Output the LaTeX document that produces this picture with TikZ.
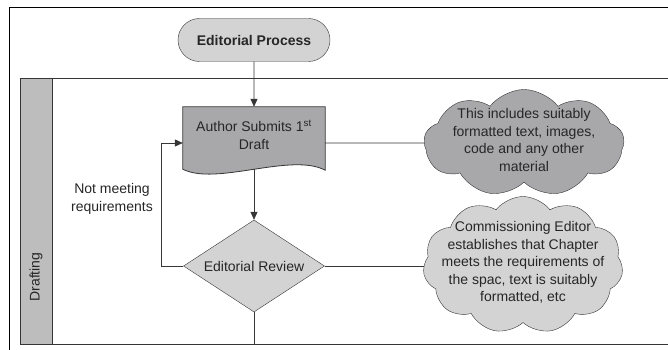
\documentclass[tikz,border=0pt]{standalone}
\usepackage{fontspec}
\setmainfont{Liberation Sans}
\usetikzlibrary{arrows.meta, positioning, shapes.geometric, shapes.misc, shapes.symbols, backgrounds}
\definecolor{linegray}{HTML}{363636}
\definecolor{lightfill}{HTML}{D3D3D4}
\definecolor{darkfill}{HTML}{A8A8AA}
\definecolor{stripfill}{HTML}{BDBDBE}
\tikzset{
  basenode/.style = {align=center, inner sep=0pt, text=black!85,
    font=\fontsize{14}{17.5}\selectfont},
  startstop/.style = {basenode, rounded rectangle, draw=linegray, fill=lightfill,
    font=\fontsize{14}{17.5}\selectfont\bfseries, minimum width=152pt, minimum height=43pt},
  docbox/.style = {basenode, rectangle, minimum width=142pt, minimum height=62pt, text depth=7pt},
  decision/.style = {basenode, diamond, draw=linegray, fill=lightfill, aspect=1.53,
    minimum width=141pt, minimum height=92pt},
  notedark/.style = {cloud, cloud puffs=9, cloud puff arc=105, cloud ignores aspect, draw=linegray,
    fill=darkfill, minimum width=200pt, minimum height=107pt},
  notelight/.style = {notedark, cloud puffs=11, fill=lightfill, minimum height=137pt},
  connector/.style = {draw=linegray, line width=0.8pt},
  arrowline/.style = {connector, -{Triangle[length=8pt, width=7pt]}},
}
\begin{document}
\begin{tikzpicture}[x=1pt, y=-1pt]
\useasboundingbox (0,0) rectangle (668,350);

% frame and swim lane
\draw[connector, black] (9,350) -- (9,7) -- (668,7);
\draw[connector, fill=stripfill] (20,344) rectangle (52,78);
\draw[connector] (52,78) -- (668,78);
\draw[connector] (52,344) -- (668,344);
\node[basenode, rotate=90] (lane) at (36,277) {Drafting};

\node[startstop] (start) at (254,40) {Editorial Process};
\node[docbox] (draft) at (254,138) {Author Submits 1\textsuperscript{st}\\Draft};
\node[decision] (review) at (254,266) {Editorial Review};
\node[basenode] (retry) at (112,199) {Not meeting\\requirements};

\node[notedark] (draftnote) at (524,143) {};
\node[basenode] (draftnotetxt) at ([yshift=3pt]draftnote) {This includes suitably\\formatted text, images,\\code and any other\\material};
\node[notelight] (reviewnote) at (523,265) {};
\node[basenode] (reviewnotetxt) at ([yshift=2.5pt]reviewnote) {Commissioning Editor\\establishes that Chapter\\meets the requirements of\\the spac, text is suitably\\formatted, etc};

\begin{scope}[on background layer]
\draw[connector, fill=darkfill] (draft.north west) -- (draft.north east) -- ([yshift=-1pt]draft.south east)
  .. controls ([shift={(-34,-17)}]draft.south east) and ([shift={(33,17)}]draft.south west) .. (draft.south west) -- cycle;
\end{scope}

\coordinate (laneend) at (254,344);
\draw[arrowline] (start) -- (draft);
\draw[arrowline] (draft) -- (review);
\draw[connector] ([yshift=-5pt]draft.east) -- (draftnote.west);
\draw[connector] (review.east) -- (review.east -| reviewnote.west);
\draw[arrowline] (review.west) -- ++(-22,0) |- ([yshift=-5pt]draft.west);
\draw[connector] (review) -- (laneend);
\end{tikzpicture}
\end{document}
